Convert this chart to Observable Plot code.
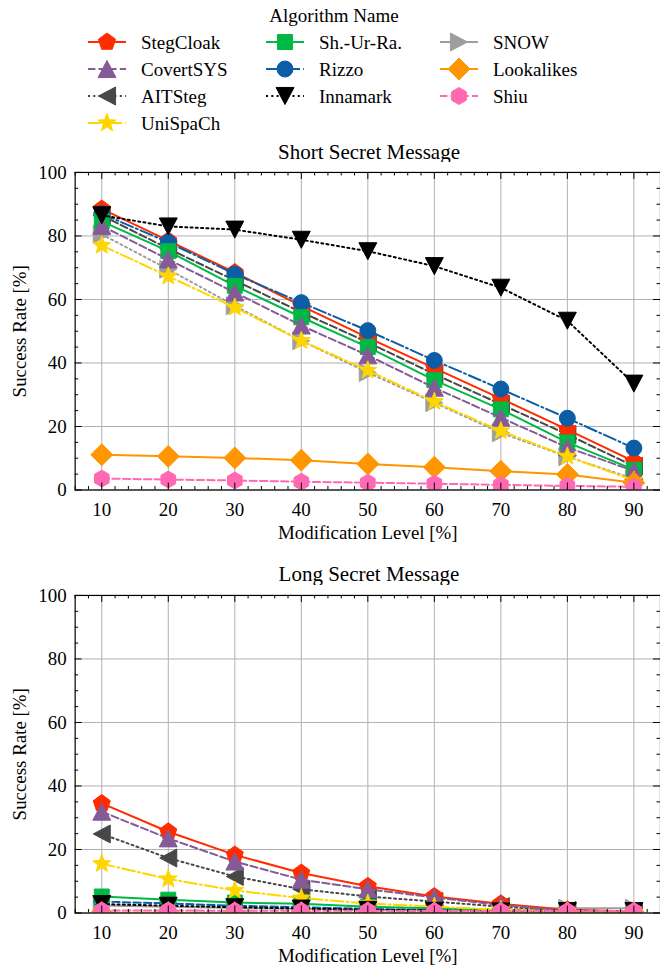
<!DOCTYPE html>
<html><head><meta charset="utf-8">
<script src="https://cdn.jsdelivr.net/npm/d3@7"></script>
<script src="https://cdn.jsdelivr.net/npm/@observablehq/plot@0.6"></script>
<style>
html,body{margin:0;padding:0;background:#fff}
body{width:660px;height:968px;overflow:hidden;position:relative;font-family:"Liberation Serif",serif;color:#000}
.abs{position:absolute}
.ttl{position:absolute;transform:translate(-50%,-50%);white-space:nowrap;font-size:21px;line-height:1}
.lg{position:absolute;transform:translateY(-50%);white-space:nowrap;font-size:19px;line-height:1}
</style></head><body>
<div id="legend"></div>
<div class="ttl" style="left:369px;top:152px">Short Secret Message</div>
<div id="c1" class="abs" style="left:0;top:162px"></div>
<div class="ttl" style="left:369px;top:574px">Long Secret Message</div>
<div id="c2" class="abs" style="left:0;top:585px"></div>
<script>
// ---------- data ----------
const levels = [10, 20, 30, 40, 50, 60, 70, 80, 90];
const algorithms = ["StegCloak", "CovertSYS", "AITSteg", "UniSpaCh", "Sh.-Ur-Ra.", "Rizzo", "Innamark", "SNOW", "Lookalikes", "Shiu"];
const xMajor = [10, 20, 30, 40, 50, 60, 70, 80, 90];
const yMajor = [0, 20, 40, 60, 80, 100];

// Short secret message (success rate %)
const shortStegCloak  = [88.5, 78.5, 68.5, 58.0, 48.0, 38.4, 28.8, 19.0, 9.0];
const shortCovertSYS  = [83.2, 72.6, 62.2, 51.8, 42.4, 32.2, 22.8, 13.4, 6.0];
const shortAITSteg    = [86.5, 76.0, 66.0, 56.0, 46.5, 36.5, 27.0, 17.5, 7.5];
const shortUniSpaCh   = [77.0, 67.3, 57.5, 47.0, 37.7, 27.8, 18.6, 10.6, 3.0];
const shortShUrRa     = [84.6, 75.2, 64.3, 54.4, 45.0, 34.6, 25.4, 15.0, 6.4];
const shortRizzo      = [87.0, 78.0, 68.0, 59.0, 50.2, 40.8, 31.8, 22.6, 13.2];
const shortInnamark   = [86.5, 83.0, 82.0, 78.8, 75.2, 70.5, 63.7, 53.3, 33.5];
const shortSNOW       = [80.5, 69.5, 58.0, 47.0, 37.0, 27.5, 18.0, 10.5, 3.5];
const shortLookalikes = [11.1, 10.6, 10.1, 9.4, 8.2, 7.2, 5.9, 4.9, 2.3];
const shortShiu       = [3.6, 3.3, 3.0, 2.6, 2.3, 2.0, 1.6, 1.3, 1.0];

// Long secret message (success rate %)
const longStegCloak  = [34.5, 25.6, 18.3, 12.6, 8.4, 5.2, 2.9, 1.0, 0.5];
const longCovertSYS  = [31.9, 23.5, 16.2, 10.5, 7.5, 4.9, 2.5, 0.8, 0.4];
const longAITSteg    = [24.9, 17.3, 11.5, 7.5, 5.2, 3.6, 2.0, 0.8, 0.4];
const longUniSpaCh   = [15.5, 10.7, 7.1, 4.7, 3.0, 2.0, 1.0, 0.5, 0.2];
const longShUrRa     = [5.2, 4.2, 3.3, 2.9, 2.0, 1.5, 0.8, 0.5, 0.3];
const longRizzo      = [3.6, 3.0, 2.3, 1.8, 1.3, 0.9, 0.5, 0.3, 0.2];
const longInnamark   = [2.8, 2.3, 1.8, 1.4, 1.0, 0.7, 0.5, 0.6, 0.6];
const longSNOW       = [2.4, 2.0, 1.6, 1.3, 1.0, 1.0, 1.0, 1.5, 1.5];
const longLookalikes = [0.1, 0.1, 0.1, 0.1, 0.1, 0.1, 0.1, 0.1, 0.1];
const longShiu       = [0.8, 0.8, 0.7, 0.7, 0.7, 0.6, 0.6, 0.6, 0.6];

// ---------- symbols ----------
function poly(pts){ return {draw(ctx, size){ const s = Math.sqrt(size/Math.PI);
  ctx.moveTo(pts[0][0]*s, pts[0][1]*s); for (let i=1;i<pts.length;i++) ctx.lineTo(pts[i][0]*s, pts[i][1]*s); ctx.closePath(); }}; }
function reg(n, a0){ return d3.range(n).map(k => { const a=(a0+360*k/n)*Math.PI/180; return [Math.cos(a), Math.sin(a)]; }); }
const symPentagon = poly(reg(5, -90));
const symHexagon = poly(reg(6, -90));
const symStar = poly(d3.range(10).map(k => { const a=(-90+36*k)*Math.PI/180, rr = k%2 ? 0.42 : 1; return [rr*Math.cos(a), rr*Math.sin(a)]; }));
const symCircle = {draw(ctx, size){ const s=Math.sqrt(size/Math.PI); ctx.moveTo(s,0); ctx.arc(0,0,s,0,2*Math.PI); ctx.closePath(); }};
const symSquare = poly([[-1,-1],[1,-1],[1,1],[-1,1]]);
const symDiamond = poly([[0,-1],[1,0],[0,1],[-1,0]]);
const symTriUp = poly([[0,-0.95],[1,0.95],[-1,0.95]]);
const symTriDown = poly([[0,0.95],[1,-0.95],[-1,-0.95]]);
const symTriLeft = poly([[-0.95,0],[0.95,-1],[0.95,1]]);
const symTriRight = poly([[0.95,0],[-0.95,-1],[-0.95,1]]);

const DASH = "7.4,3.2", DOT = "2,3.3", DASHDOT = "12.8,3.2,2,3.2";

// styles per algorithm (index aligned with `algorithms`)
const styles = [
  {color:"#FF2C00", sym:symPentagon, r:9,   legend:null,    top:null,    bottom:null},
  {color:"#845B97", sym:symTriUp,    r:9,   legend:DASH,    top:DASH,    bottom:DASH},
  {color:"#474747", sym:symTriLeft,  r:9,   legend:DOT,     top:DASH,    bottom:DOT},
  {color:"#FFD500", sym:symStar,     r:9.5, legend:DASHDOT, top:DASHDOT, bottom:DASHDOT},
  {color:"#00B945", sym:symSquare,   r:7.5, legend:null,    top:null,    bottom:null},
  {color:"#0C5DA5", sym:symCircle,   r:8,   legend:DASHDOT, top:DASHDOT, bottom:DASH},
  {color:"#000000", sym:symTriDown,  r:9,   legend:DOT,     top:DOT,     bottom:DOT},
  {color:"#9e9e9e", sym:symTriRight, r:9,   legend:null,    top:DOT,     bottom:null},
  {color:"#FF9500", sym:symDiamond,  r:11,  legend:null,    top:null,    bottom:null},
  {color:"#FF69B4", sym:symHexagon,  r:8.5, legend:DASH,    top:DASH,    bottom:DASH}
];
const shortValues = [shortStegCloak, shortCovertSYS, shortAITSteg, shortUniSpaCh, shortShUrRa, shortRizzo, shortInnamark, shortSNOW, shortLookalikes, shortShiu];
const longValues  = [longStegCloak, longCovertSYS, longAITSteg, longUniSpaCh, longShUrRa, longRizzo, longInnamark, longSNOW, longLookalikes, longShiu];
const drawOrder = ["SNOW", "AITSteg", "StegCloak", "Rizzo", "Sh.-Ur-Ra.", "CovertSYS", "UniSpaCh", "Innamark", "Lookalikes", "Shiu"];

// ---------- legend ----------
const legend = document.getElementById("legend");
const lgTitle = document.createElement("div");
lgTitle.className = "ttl"; lgTitle.style.left = "334px"; lgTitle.style.top = "15px"; lgTitle.style.fontSize = "19px";
lgTitle.textContent = "Algorithm Name";
legend.appendChild(lgTitle);
const colLine = [88, 266, 440], colText = [141, 319, 493], rowY = [41.5, 68.5, 96, 123];
const colOf = [0,0,0,0,1,1,1,2,2,2], rowOf = [0,1,2,3,0,1,2,0,1,2];
algorithms.forEach((name, i) => {
  const st = styles[i];
  const x0 = colLine[colOf[i]], y0 = rowY[rowOf[i]];
  const svg = d3.create("svg").attr("width", 38).attr("height", 24)
    .style("position","absolute").style("left", x0+"px").style("top", (y0-12)+"px").style("overflow","visible");
  svg.append("line").attr("x1",0).attr("x2",38).attr("y1",12).attr("y2",12)
    .attr("stroke", st.color).attr("stroke-width", 2).attr("stroke-dasharray", st.legend || null);
  const p = d3.path(); st.sym.draw(p, Math.PI*st.r*st.r);
  svg.append("path").attr("d", p.toString()).attr("transform","translate(19,12)")
    .attr("fill", st.color).attr("stroke", st.color).attr("stroke-width", 1);
  legend.appendChild(svg.node());
  const t = document.createElement("div");
  t.className = "lg"; t.style.left = colText[colOf[i]]+"px"; t.style.top = y0+"px"; t.textContent = name;
  legend.appendChild(t);
});

// ---------- charts ----------
function chart(values, which){
  const W = 663, H = 382, mt = 10, mb = 53, ml = 75, mr = 0;
  const pw = W - ml - mr, ph = H - mt - mb;
  const xMinor = d3.range(6, 95, 2).filter(d => d % 10 !== 0);
  const yMinor = d3.range(0, 101, 5).filter(d => d % 20 !== 0);
  const marks = [
    Plot.ruleX(xMajor, {x: d => d, stroke: "#b0b0b0", strokeWidth: 1}),
    Plot.ruleY(yMajor, {y: d => d, stroke: "#b0b0b0", strokeWidth: 1})
  ];
  for (const name of drawOrder) {
    const i = algorithms.indexOf(name), st = styles[i], vals = values[i];
    const dash = which === "top" ? st.top : st.bottom;
    marks.push(Plot.line(vals, {x: (d, j) => levels[j], y: d => d, stroke: st.color, strokeWidth: 2,
      strokeDasharray: dash || undefined, clip: true}));
    marks.push(Plot.dot(vals, {x: (d, j) => levels[j], y: d => d, symbol: st.sym, r: st.r,
      fill: st.color, stroke: st.color, strokeWidth: 1, clip: true}));
  }
  const tk = {stroke: "black", strokeWidth: 1};
  marks.push(
    Plot.tickX(xMajor, {x: d => d, insetTop: ph - 7, ...tk}),
    Plot.tickX(xMajor, {x: d => d, insetBottom: ph - 7, ...tk}),
    Plot.tickX(xMinor, {x: d => d, insetTop: ph - 3.5, ...tk}),
    Plot.tickX(xMinor, {x: d => d, insetBottom: ph - 3.5, ...tk}),
    Plot.tickY(yMajor, {y: d => d, insetRight: pw - 7, ...tk}),
    Plot.tickY(yMajor, {y: d => d, insetLeft: pw - 7, ...tk}),
    Plot.tickY(yMinor, {y: d => d, insetRight: pw - 3.5, ...tk}),
    Plot.tickY(yMinor, {y: d => d, insetLeft: pw - 3.5, ...tk}),
    Plot.frame({stroke: "black", strokeWidth: 1.2}),
    Plot.text(["Modification Level [%]"], {frameAnchor: "bottom", dy: 43, lineAnchor: "middle", fontSize: 19, fill: "black"}),
    Plot.text(["Success Rate [%]"], {frameAnchor: "left", dx: -55, rotate: -90, textAnchor: "middle", lineAnchor: "middle", fontSize: 19, fill: "black"})
  );
  return Plot.plot({
    width: W, height: H, marginTop: mt, marginBottom: mb, marginLeft: ml, marginRight: mr,
    x: {domain: [6, 94], ticks: xMajor, tickSize: 0, tickPadding: 12.5, label: null, tickFormat: d => String(d)},
    y: {domain: [0, 100], ticks: yMajor, tickSize: 0, tickPadding: 8.5, label: null, tickFormat: d => String(d)},
    style: {fontFamily: "Liberation Serif, serif", fontSize: "19px", color: "black", background: "white", overflow: "visible"},
    marks
  });
}
document.getElementById("c1").appendChild(chart(shortValues, "top"));
document.getElementById("c2").appendChild(chart(longValues, "bottom"));
</script>
</body></html>
